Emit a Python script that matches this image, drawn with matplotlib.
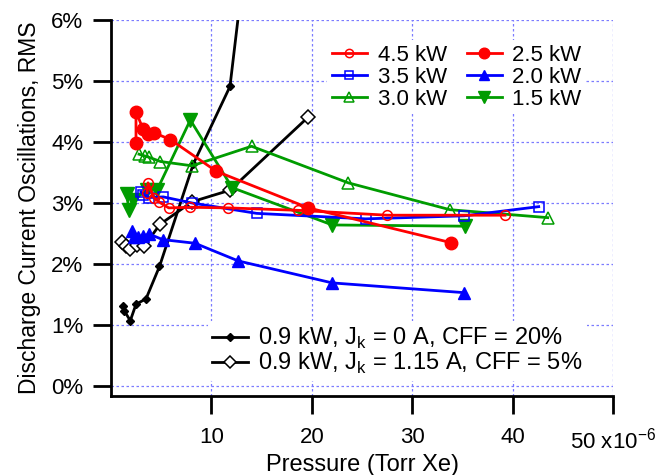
import numpy as np
import matplotlib
matplotlib.use("Agg")
import matplotlib.pyplot as plt
from matplotlib.ticker import FuncFormatter

plt.rcParams['font.family'] = ['Liberation Sans', 'DejaVu Sans']

# pressure in 1e-6 Torr Xe, oscillation in % RMS
p_45 = [3.59, 3.69, 4.25, 4.75, 5.75, 7.90, 11.62, 18.63, 27.52, 39.24]
o_45 = [3.17, 3.33, 3.09, 3.02, 2.92, 2.93, 2.92, 2.88, 2.80, 2.80]

p_35 = [2.99, 3.22, 3.81, 5.21, 8.07, 14.51, 25.37, 35.19, 42.60]
o_35 = [3.18, 3.13, 3.09, 3.10, 3.00, 2.83, 2.74, 2.79, 2.94]

p_30 = [2.79, 3.39, 3.78, 4.93, 8.07, 14.0, 23.64, 33.76, 43.5]
o_30 = [3.80, 3.77, 3.75, 3.68, 3.61, 3.93, 3.33, 2.89, 2.76]

p_25 = [2.49, 2.49, 3.19, 3.66, 4.31, 5.91, 10.49, 19.65, 33.86]
o_25 = [3.99, 4.50, 4.21, 4.13, 4.15, 4.04, 3.52, 2.92, 2.35]

p_20 = [2.06, 2.29, 2.64, 3.22, 3.81, 5.15, 8.37, 12.68, 22.04, 35.19]
o_20 = [2.54, 2.44, 2.45, 2.46, 2.49, 2.40, 2.34, 2.05, 1.69, 1.53]

p_15 = [1.59, 1.76, 2.2, 3.59, 4.58, 7.90, 12.08, 22.04, 35.26]
o_15 = [3.15, 2.89, 3.05, 3.21, 3.21, 4.36, 3.25, 2.64, 2.62]

p_jk0 = [1.15, 1.34, 1.92, 2.49, 3.49, 4.83, 8.2, 11.85, 13.5]
o_jk0 = [1.31, 1.23, 1.07, 1.34, 1.43, 1.96, 3.64, 4.91, 7.2]

p_jk115 = [1.10, 1.49, 1.89, 2.59, 3.29, 4.88, 8.07, 11.85, 19.65]
o_jk115 = [2.36, 2.30, 2.25, 2.31, 2.29, 2.65, 3.02, 3.21, 4.41]

red = '#ff0000'
blue = '#0000ff'
green = '#009c00'
fs = 16
lw = 2.0

fig = plt.figure(figsize=(6.59, 4.75), dpi=100)
ax = fig.add_axes([111/659, 79/475, 502/659, 376/475])

h_jk0, = ax.plot(p_jk0, o_jk0, '-', color='black', lw=lw, marker='D', ms=4.5,
                 label='0.9 kW, J$_\\mathregular{k}$ = 0 A, CFF = 20%')
h_jk115, = ax.plot(p_jk115, o_jk115, '-', color='black', lw=lw, marker='D', ms=7,
                   mfc='white', mew=1.1,
                   label='0.9 kW, J$_\\mathregular{k}$ = 1.15 A, CFF = 5%')
h30, = ax.plot(p_30, o_30, '-', color=green, lw=lw, marker='^', ms=8, mfc='none', mew=1.1, label='3.0 kW')
h15, = ax.plot(p_15, o_15, '-', color=green, lw=lw, marker='v', ms=10, label='1.5 kW')
h35, = ax.plot(p_35, o_35, '-', color=blue, lw=lw, marker='s', ms=7, mfc='none', mew=1.1, label='3.5 kW')
h20, = ax.plot(p_20, o_20, '-', color=blue, lw=lw, marker='^', ms=9, label='2.0 kW')
h45, = ax.plot(p_45, o_45, '-', color=red, lw=lw, marker='o', ms=7, mfc='none', mew=1.1, label='4.5 kW')
h25, = ax.plot(p_25, o_25, '-', color=red, lw=lw, marker='o', ms=9, label='2.5 kW')

ax.set_xlim(0, 50)
ax.set_ylim(-10/61, 6)
ax.set_xticks([10, 20, 30, 40, 50])
ax.set_xticklabels(['10', '20', '30', '40', ''])
ax.set_yticks(range(0, 7))
ax.yaxis.set_major_formatter(FuncFormatter(lambda v, pos: '%d%%' % v))

ax.grid(True, color='#7b7bff', ls=(0, (2, 2)), lw=0.9)
ax.set_axisbelow(True)
for s in ['top', 'right']:
    ax.spines[s].set_visible(False)
for s in ['left', 'bottom']:
    ax.spines[s].set_linewidth(2)
ax.tick_params(axis='both', direction='out', length=13, width=2, labelsize=fs)
ax.tick_params(axis='x', pad=9)
ax.tick_params(axis='y', pad=7)

ax.annotate('50 x10$^{\\mathregular{-6}}$', xy=(50, 0), xycoords=('data', 'axes fraction'),
            xytext=(-31, -38), textcoords='offset points', ha='left', va='baseline', fontsize=fs)

ax.set_xlabel('Pressure (Torr Xe)', fontsize=17, labelpad=5)
ax.set_ylabel('Discharge Current Oscillations, RMS', fontsize=16.5, labelpad=7)

leg1 = ax.legend(handles=[h45, h35, h30, h25, h20, h15], ncol=2, loc='upper left',
                 bbox_to_anchor=(0.431, 0.946), borderaxespad=0, frameon=True, fontsize=fs,
                 handlelength=1.58, handletextpad=0.48, columnspacing=0.9,
                 labelspacing=0.05, borderpad=0.2, markerscale=0.85)
leg1.get_frame().set_edgecolor('none')
leg1.get_frame().set_facecolor('white')
leg1.get_frame().set_alpha(1)
ax.add_artist(leg1)

leg2 = ax.legend(handles=[h_jk0, h_jk115], loc='lower left', bbox_to_anchor=(0.1924, 0.04),
                 borderaxespad=0, frameon=True, fontsize=17, handlelength=1.5,
                 handletextpad=0.45, labelspacing=0.0, borderpad=0.2, markerscale=0.85)
leg2.get_frame().set_edgecolor('none')
leg2.get_frame().set_facecolor('white')
leg2.get_frame().set_alpha(1)

fig.savefig('out.png', dpi=100)
